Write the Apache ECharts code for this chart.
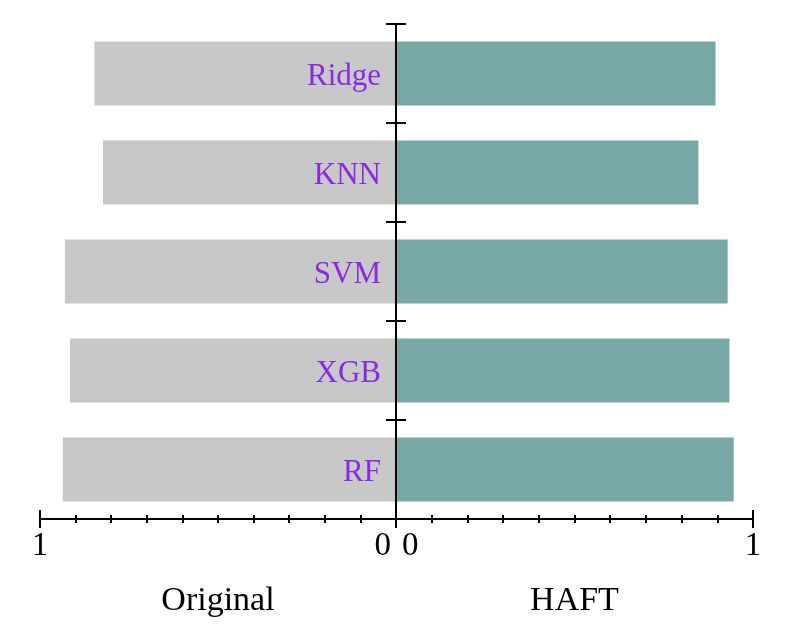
<!DOCTYPE html>
<html>
<head>
<meta charset="utf-8">
<script src="https://cdn.jsdelivr.net/npm/echarts@6/dist/echarts.min.js"></script>
<style>html,body{margin:0;padding:0;background:#fff;}#c{width:793px;height:634px;}</style>
</head>
<body>
<div id="c"></div>
<script>
const categories = ['Ridge', 'KNN', 'SVM', 'XGB', 'RF'];
const originalValues = [0.847, 0.823, 0.930, 0.916, 0.936];
const haftValues = [0.895, 0.847, 0.929, 0.934, 0.946];
const leftAxisName = 'Original';
const rightAxisName = 'HAFT';
const axisMin = 0, axisMax = 1;

const FONT = 'Liberation Serif';
const black = '#000';
const line2 = { color: black, width: 2 };

function xAxisPair(gridIndex, inverse, name, zeroPad) {
  const main = {
    type: 'value', gridIndex: gridIndex, inverse: inverse, min: axisMin, max: axisMax, interval: 1,
    position: 'bottom', z: 10,
    axisLine: { show: true, lineStyle: line2 },
    axisTick: { show: true, length: 9, lineStyle: line2 },
    minorTick: { show: true, splitNumber: 10, length: 4, lineStyle: line2 },
    splitLine: { show: false }, minorSplitLine: { show: false },
    axisLabel: {
      show: true, margin: 11, color: black, fontSize: 33, fontFamily: FONT,
      formatter: v => v === 0 ? '{z|0}' : '{o|' + v + '}',
      rich: { z: { fontSize: 33, fontFamily: FONT, color: black, padding: zeroPad }, o: { fontSize: 33, fontFamily: FONT, color: black } }
    },
    name: name, nameLocation: 'middle', nameGap: 65,
    nameTextStyle: { color: black, fontSize: 34, fontFamily: FONT }
  };
  const inner = {
    type: 'value', gridIndex: gridIndex, inverse: inverse, min: axisMin, max: axisMax, interval: 1,
    position: 'bottom', z: 10,
    axisLine: { show: false },
    axisTick: { show: true, inside: true, length: 9, lineStyle: line2 },
    minorTick: { show: true, splitNumber: 10, length: 4, lineStyle: line2 },
    splitLine: { show: false }, minorSplitLine: { show: false },
    axisLabel: { show: false }
  };
  return [main, inner];
}

const chart = echarts.init(document.getElementById('c'), null, { renderer: 'canvas' });
const la = xAxisPair(0, true, leftAxisName, [0, 5, 0, 0]);
const ra = xAxisPair(1, false, rightAxisName, [0, 0, 0, 6]);
la[0].axisLabel.alignMinLabel = 'right';
ra[0].axisLabel.alignMinLabel = 'left';

chart.setOption({
  animation: false,
  backgroundColor: '#fff',
  grid: [
    { left: 40, width: 356, top: 24, bottom: 115, containLabel: false },
    { left: 396, width: 357, top: 24, bottom: 115, containLabel: false }
  ],
  xAxis: [la[0], la[1], ra[0], ra[1]],
  yAxis: [
    {
      type: 'category', gridIndex: 0, data: categories, inverse: true, position: 'right', z: 10,
      axisLine: { show: true, lineStyle: line2 },
      axisTick: { show: true, length: 10, lineStyle: line2 },
      axisLabel: {
        show: true, inside: true, margin: 15, color: '#8A2BE2', fontSize: 31, fontFamily: FONT,
        formatter: v => '{c|' + v + '}',
        rich: { c: { color: '#8A2BE2', fontSize: 31, fontFamily: FONT, padding: [7, 0, 0, 0] } }
      },
      splitLine: { show: false }
    },
    {
      type: 'category', gridIndex: 1, data: categories, inverse: true, position: 'left', z: 10,
      axisLine: { show: true, lineStyle: line2 },
      axisTick: { show: true, length: 10, lineStyle: line2 },
      axisLabel: { show: false },
      splitLine: { show: false }
    }
  ],
  series: [
    { type: 'bar', xAxisIndex: 0, yAxisIndex: 0, data: originalValues, barWidth: 64, itemStyle: { color: '#c8c8c8' } },
    { type: 'bar', xAxisIndex: 2, yAxisIndex: 1, data: haftValues, barWidth: 64, itemStyle: { color: '#78a8a5' } }
  ]
});
</script>
</body>
</html>
